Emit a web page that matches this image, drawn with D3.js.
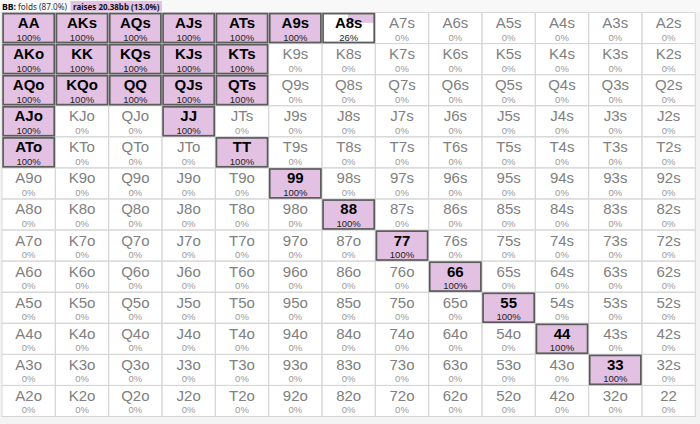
<!DOCTYPE html>
<html><head><meta charset="utf-8">
<script src="https://cdn.jsdelivr.net/npm/d3@7"></script>
<style>
html,body{margin:0;padding:0;background:#f3f3f3;}
svg{display:block;}
</style></head>
<body>
<script>
const ranks = ["A","K","Q","J","T","9","8","7","6","5","4","3","2"];
const header = {player:"BB:", fold:"folds (87.0%)", raise:"raises 20.38bb (13.0%)"};
// raise frequency (%) per grid row (row = first rank, col = second rank)
const freqRow0  = [100,100,100,100,100,100,26,0,0,0,0,0,0];
const freqRow1  = [100,100,100,100,100,0,0,0,0,0,0,0,0];
const freqRow2  = [100,100,100,100,100,0,0,0,0,0,0,0,0];
const freqRow3  = [100,0,0,100,0,0,0,0,0,0,0,0,0];
const freqRow4  = [100,0,0,0,100,0,0,0,0,0,0,0,0];
const freqRow5  = [0,0,0,0,0,100,0,0,0,0,0,0,0];
const freqRow6  = [0,0,0,0,0,0,100,0,0,0,0,0,0];
const freqRow7  = [0,0,0,0,0,0,0,100,0,0,0,0,0];
const freqRow8  = [0,0,0,0,0,0,0,0,100,0,0,0,0];
const freqRow9  = [0,0,0,0,0,0,0,0,0,100,0,0,0];
const freqRow10 = [0,0,0,0,0,0,0,0,0,0,100,0,0];
const freqRow11 = [0,0,0,0,0,0,0,0,0,0,0,100,0];
const freqRow12 = [0,0,0,0,0,0,0,0,0,0,0,0,0];
const freqRows = [freqRow0,freqRow1,freqRow2,freqRow3,freqRow4,freqRow5,freqRow6,freqRow7,freqRow8,freqRow9,freqRow10,freqRow11,freqRow12];

const W = 700, H = 424;
const gx0 = 1.5, gx1 = 694.8, gy0 = 12, gy1 = 416;
const purple = "#e3c1e3";

const svg = d3.select("body").append("svg").attr("width", W).attr("height", H);

// header
svg.append("rect").attr("x",0).attr("y",0).attr("width",W).attr("height",gy0).attr("fill","#f8f8f8");
const hdr = svg.append("g").attr("font-family","'Noto Sans', 'DejaVu Sans', sans-serif").attr("font-size",9.5);
hdr.append("text").attr("x",2).attr("y",9.5).attr("fill","#000").attr("font-weight","bold")
  .attr("textLength",14).attr("lengthAdjust","spacingAndGlyphs").text(header.player);
hdr.append("text").attr("x",18).attr("y",9.5).attr("fill","#333")
  .attr("textLength",49).attr("lengthAdjust","spacingAndGlyphs").text(header.fold);
const rbx = 70.5, rbw = 91.5;
hdr.append("rect").attr("x",rbx).attr("y",1).attr("width",rbw).attr("height",10.5).attr("fill",purple);
hdr.append("text").attr("x",rbx+2.5).attr("y",9.5).attr("font-weight","bold").attr("fill","#111")
  .attr("textLength",rbw-5).attr("lengthAdjust","spacingAndGlyphs").text(header.raise);

const x = d3.scaleBand().domain(d3.range(13)).range([gx0,gx1]).padding(0);
const y = d3.scaleBand().domain(d3.range(13)).range([gy0,gy1]).padding(0);
const bw = x.bandwidth(), bh = y.bandwidth();

const cells = [];
for (let r=0;r<13;r++) for (let c=0;c<13;c++) {
  let name;
  if (r===c) name = ranks[r]+ranks[c];
  else if (c>r) name = ranks[r]+ranks[c]+"s";
  else name = ranks[c]+ranks[r]+"o";
  cells.push({r,c,name,f:freqRows[r][c]});
}

// white grid background
svg.append("rect").attr("x",gx0).attr("y",gy0).attr("width",gx1-gx0).attr("height",gy1-gy0).attr("fill","#fff");

const g = svg.append("g");
// light grid lines
g.selectAll("rect.cell").data(cells).join("rect").attr("class","cell")
  .attr("x",d=>x(d.c)+0.5).attr("y",d=>y(d.r)+0.5)
  .attr("width",bw).attr("height",bh)
  .attr("fill","none").attr("stroke","#d6d6d6").attr("stroke-width",1);

const sel = cells.filter(d=>d.f>0);
// fills
g.selectAll("rect.fill").data(sel).join("rect").attr("class","fill")
  .attr("x",d=> d.f>=100 ? x(d.c)+1.5 : x(d.c)+bw/2)
  .attr("y",d=>y(d.r)+1.5)
  .attr("width",d=> d.f>=100 ? bw-2 : bw/2-0.5)
  .attr("height",d=> d.f>=100 ? bh-2 : bh*0.3)
  .attr("fill",purple);
// dark borders
g.selectAll("rect.bord").data(sel).join("rect").attr("class","bord")
  .attr("x",d=>x(d.c)+1.6).attr("y",d=>y(d.r)+1.6)
  .attr("width",bw-2.2).attr("height",bh-2.2)
  .attr("fill","none").attr("stroke","#5c5c5c").attr("stroke-width",1.7);

// labels
g.selectAll("text.name").data(cells).join("text").attr("class","name")
  .attr("x",d=>x(d.c)+bw/2+0.5).attr("y",d=>y(d.r)+16)
  .attr("text-anchor","middle")
  .attr("font-family","'Liberation Sans', Arial, sans-serif")
  .attr("font-size",15)
  .attr("font-weight",d=>d.f>0?"bold":"normal")
  .attr("fill",d=>d.f>0?"#000":"#808080")
  .text(d=>d.name);
g.selectAll("text.pct").data(cells).join("text").attr("class","pct")
  .attr("x",d=>x(d.c)+bw/2+0.5).attr("y",d=>y(d.r)+28.5)
  .attr("text-anchor","middle")
  .attr("font-family","'Liberation Sans', Arial, sans-serif")
  .attr("font-size",9.5)
  .attr("fill",d=>d.f>0?"#222":"#999")
  .text(d=>d.f+"%");
</script>
</body></html>
